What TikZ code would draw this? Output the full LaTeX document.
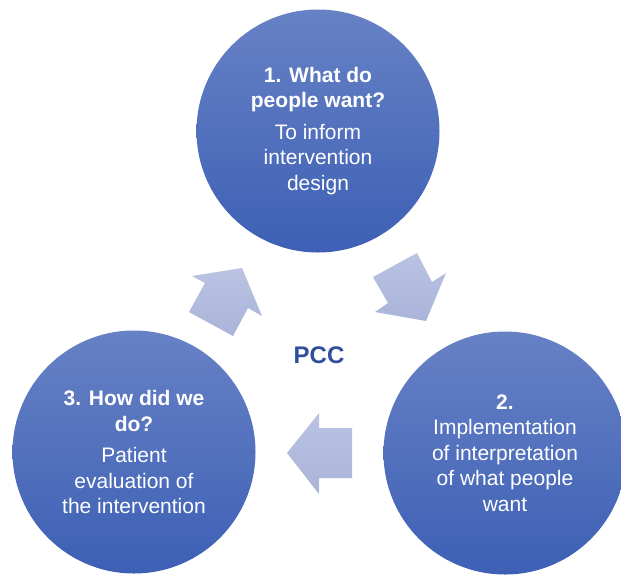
\documentclass[tikz,border=0pt]{standalone}
\usepackage{fontspec}
\setmainfont{Liberation Sans}
\definecolor{phasetop}{HTML}{6781C5}
\definecolor{phasebottom}{HTML}{3D60B5}
\definecolor{flowlight}{HTML}{BAC3E2}
\definecolor{flowdark}{HTML}{A9B4D9}
\definecolor{pcctext}{HTML}{2F4F9A}
\begin{document}
\begin{tikzpicture}[x=1pt,y=-1pt]
  \tikzstyle{phase}=[circle, minimum size=243pt, inner sep=0pt, top color=phasetop, bottom color=phasebottom, text=white, align=center, font=\fontsize{21}{25.5}\selectfont]
  \tikzstyle{flow}=[top color=flowlight, bottom color=flowdark, draw=none]
  \useasboundingbox (0,0) rectangle (621,574);
  \node[phase] (want) at (318,131) {\textbf{1. What do}\\ \textbf{people want?}\\[6pt] To inform\\ intervention\\ design};
  \node[phase] (impl) at (505,453) {\textbf{2.}\\ Implementation\\ of interpretation\\ of what people\\ want};
  \node[phase] (eval) at (134,452) {\textbf{3. How did we}\\ \textbf{do?}\\[6pt] Patient\\ evaluation of\\ the intervention};
  \node[text=pcctext, font=\fontsize{24}{28}\selectfont\bfseries] (pcc) at (319,355) {PCC};
  % arrows between the phases
  \shade[flow] (373,277) -- (417,253) -- (432,282) -- (446,273) -- (426,321) -- (375,312) -- (388,303) -- cycle;
  \shade[flow] (352,428) -- (319,428) -- (319,413) -- (287,453) -- (319,494) -- (319,478) -- (352,478) -- cycle;
  \shade[flow] (233,336) -- (189,312) -- (205,283) -- (192,276) -- (242,268) -- (262,316) -- (248,308) -- cycle;
\end{tikzpicture}
\end{document}
